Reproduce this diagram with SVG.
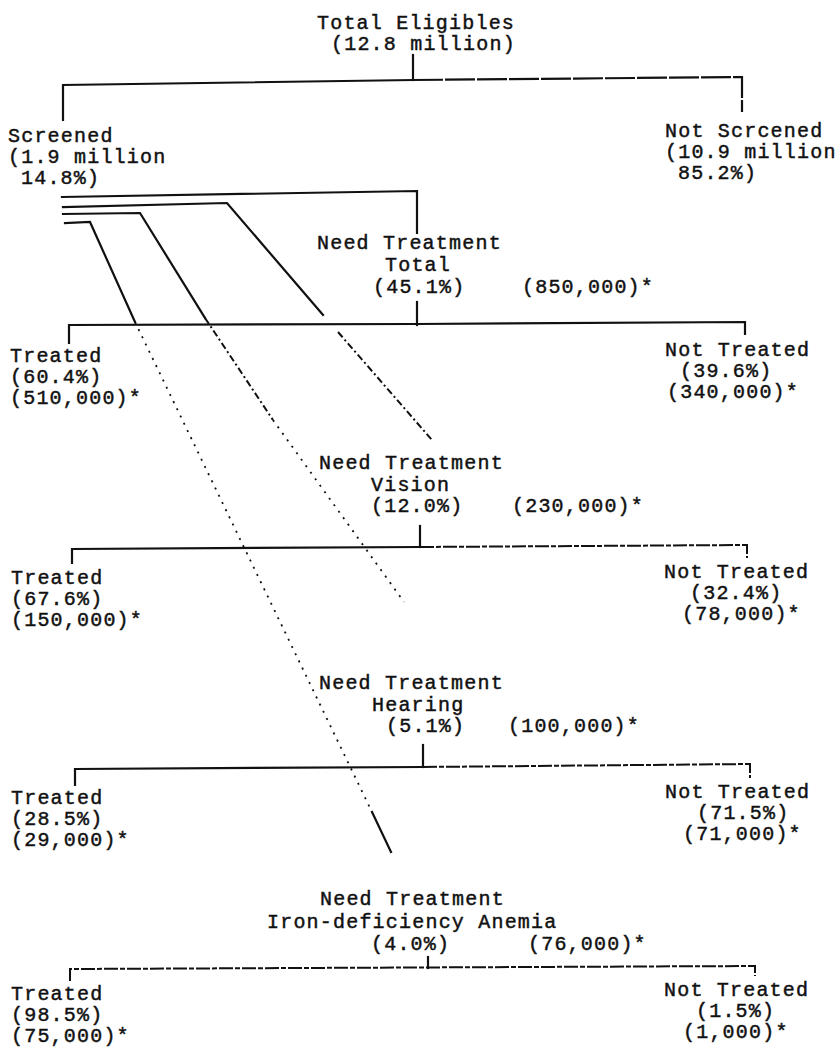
<svg xmlns="http://www.w3.org/2000/svg" width="840" height="1047" viewBox="0 0 840 1047">
<style>
.t{font-family:"Liberation Mono","DejaVu Sans Mono",monospace;font-size:20px;letter-spacing:1.2px;fill:#111;stroke:#111;stroke-width:0.45px;}
.ln{fill:none;stroke:#111;stroke-width:2.2;stroke-linecap:square;stroke-linejoin:miter;}
.dash{fill:none;stroke:#111;stroke-width:2;stroke-dasharray:7 3 2 3;}
.dot{fill:none;stroke:#111;stroke-width:1.8;stroke-dasharray:2 6;}
.br{fill:none;stroke:#111;stroke-width:2;stroke-dasharray:14 2 5 2;}
.sb{fill:none;stroke:#111;stroke-width:2.2;stroke-dasharray:30 2;}
</style>
<rect width="840" height="1047" fill="#fff"/>
<g id="connectors">
  <!-- Total Eligibles split -->
  <path class="ln" d="M413,55 V80"/>
  <path class="ln" d="M63,120 V85 L413,80"/>
  <path class="sb" d="M413,80 L742,77 V112"/>
  <!-- Screened branches -->
  <path class="ln" d="M62,197 L417,191 V233"/>
  <path class="ln" d="M63,207 L227,203 L323,315"/>
  <path class="dash" d="M338,332 L432,440"/>
  <path class="ln" d="M63,214 L140,213 L205,318"/>
  <path class="dash" d="M205,318 L273,420"/>
  <path class="dot" d="M273,420 L404,602"/>
  <path class="ln" d="M65,223 L90,222 L135,322"/>
  <path class="dot" d="M135,322 L372,812"/>
  <path class="ln" d="M372,812 L391,852"/>
  <!-- Total need bracket -->
  <path class="ln" d="M417,302 V325"/>
  <path class="ln" d="M69,343 V325 L417,324"/>
  <path class="ln" d="M417,324 L745,322 V334"/>
  <!-- Vision bracket -->
  <path class="ln" d="M420,526 V547"/>
  <path class="ln" d="M72,563 V549 L420,547"/>
  <path class="br" d="M420,547 L747,545 V558"/>
  <!-- Hearing bracket -->
  <path class="ln" d="M423,745 V767"/>
  <path class="ln" d="M75,785 V769 L423,767"/>
  <path class="br" d="M423,767 L750,764 V778"/>
  <!-- Iron bracket -->
  <path class="ln" d="M428,957 V968"/>
  <path class="br" d="M70,981 V969 L755,966 V976"/>
</g>
<g id="n-total-eligibles">
  <text class="t" x="317" y="29">Total Eligibles</text>
  <text class="t" x="331" y="50">(12.8 million)</text>
</g>
<g id="n-screened">
  <text class="t" x="8" y="142">Screened</text>
  <text class="t" x="8" y="163">(1.9 million</text>
  <text class="t" x="21" y="184">14.8%)</text>
</g>
<g id="n-not-screened">
  <text class="t" x="665" y="137">Not Scrcened</text>
  <text class="t" x="665" y="158">(10.9 million</text>
  <text class="t" x="678" y="179">85.2%)</text>
</g>
<g id="n-need-total">
  <text class="t" x="317" y="249">Need Treatment</text>
  <text class="t" x="385" y="271">Total</text>
  <text class="t" x="373" y="293">(45.1%)</text>
  <text class="t" x="522" y="293">(850,000)*</text>
</g>
<g id="n-treated-total">
  <text class="t" x="10" y="362">Treated</text>
  <text class="t" x="10" y="383">(60.4%)</text>
  <text class="t" x="10" y="404">(510,000)*</text>
</g>
<g id="n-not-treated-total">
  <text class="t" x="665" y="356">Not Treated</text>
  <text class="t" x="680" y="377">(39.6%)</text>
  <text class="t" x="667" y="398">(340,000)*</text>
</g>
<g id="n-need-vision">
  <text class="t" x="319" y="469">Need Treatment</text>
  <text class="t" x="371" y="491">Vision</text>
  <text class="t" x="371" y="512">(12.0%)</text>
  <text class="t" x="512" y="512">(230,000)*</text>
</g>
<g id="n-treated-vision">
  <text class="t" x="11" y="584">Treated</text>
  <text class="t" x="11" y="605">(67.6%)</text>
  <text class="t" x="11" y="626">(150,000)*</text>
</g>
<g id="n-not-treated-vision">
  <text class="t" x="664" y="578">Not Treated</text>
  <text class="t" x="690" y="599">(32.4%)</text>
  <text class="t" x="682" y="620">(78,000)*</text>
</g>
<g id="n-need-hearing">
  <text class="t" x="319" y="689">Need Treatment</text>
  <text class="t" x="372" y="711">Hearing</text>
  <text class="t" x="386" y="732">(5.1%)</text>
  <text class="t" x="508" y="732">(100,000)*</text>
</g>
<g id="n-treated-hearing">
  <text class="t" x="11" y="804">Treated</text>
  <text class="t" x="11" y="825">(28.5%)</text>
  <text class="t" x="11" y="846">(29,000)*</text>
</g>
<g id="n-not-treated-hearing">
  <text class="t" x="665" y="798">Not Treated</text>
  <text class="t" x="697" y="819">(71.5%)</text>
  <text class="t" x="683" y="840">(71,000)*</text>
</g>
<g id="n-need-iron">
  <text class="t" x="320" y="905">Need Treatment</text>
  <text class="t" x="267" y="928">Iron-deficiency Anemia</text>
  <text class="t" x="371" y="950">(4.0%)</text>
  <text class="t" x="528" y="950">(76,000)*</text>
</g>
<g id="n-treated-iron">
  <text class="t" x="11" y="1000">Treated</text>
  <text class="t" x="11" y="1021">(98.5%)</text>
  <text class="t" x="11" y="1042">(75,000)*</text>
</g>
<g id="n-not-treated-iron">
  <text class="t" x="664" y="996">Not Treated</text>
  <text class="t" x="696" y="1017">(1.5%)</text>
  <text class="t" x="683" y="1038">(1,000)*</text>
</g>
</svg>
